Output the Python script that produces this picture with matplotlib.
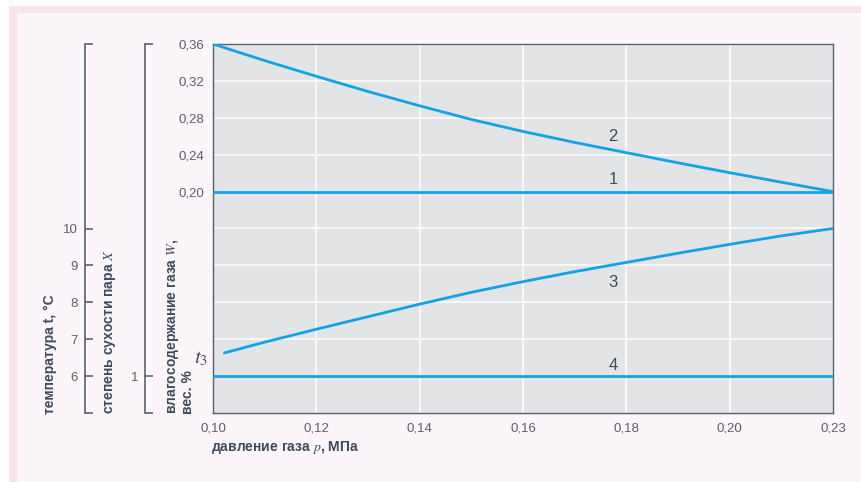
import matplotlib
matplotlib.use("Agg")
import matplotlib.pyplot as plt
from matplotlib.patches import Rectangle

plt.rcParams['font.family'] = ['Liberation Sans Narrow', 'Liberation Sans', 'DejaVu Sans']
plt.rcParams['mathtext.fontset'] = 'stix'

# gas pressure, MPa
p = [0.10, 0.11, 0.12, 0.13, 0.14, 0.15, 0.16, 0.17, 0.18, 0.19, 0.20, 0.21, 0.22]
# curve 1 and 2: moisture content of gas W, wt. %
w1 = [0.20] * len(p)
w2 = [0.360, 0.342, 0.325, 0.3085, 0.293, 0.2782, 0.2652, 0.2533, 0.2422, 0.2312, 0.2205, 0.2102, 0.200]
# curve 3: temperature t3, °C
p3 = [0.102, 0.11, 0.12, 0.13, 0.14, 0.15, 0.16, 0.17, 0.18, 0.19, 0.20, 0.21, 0.22]
t3 = [6.62, 6.92, 7.27, 7.61, 7.95, 8.27, 8.56, 8.83, 9.08, 9.33, 9.57, 9.80, 10.0]
# curve 4: temperature at dryness X = 1
t4 = [6.0] * len(p)

x_ticks = [0.10, 0.12, 0.14, 0.16, 0.18, 0.20, 0.22]
x_tick_labels = ['0,10', '0,12', '0,14', '0,16', '0,18', '0,20', '0,23']
w_ticks = [0.20, 0.24, 0.28, 0.32, 0.36]
w_grid = [-0.04 + 0.04 * i for i in range(11)]
t_ticks = [6, 7, 8, 9, 10]
x_dry_ticks = [1]

LINE = '#12a2e6'
DARK = '#3d4b5b'
TICK = '#5b6066'
SPINE = '#56626e'
LW = 2.0

fig = plt.figure(figsize=(8.61, 4.82), dpi=100, facecolor='white')
fig.patches.append(Rectangle((9 / 861, 0), 1, 1 - 6 / 482, transform=fig.transFigure,
                             facecolor='#fbe3ec', edgecolor='none', zorder=-3))
fig.patches.append(Rectangle((17 / 861, 0), 1, 1 - 13 / 482, transform=fig.transFigure,
                             facecolor='#fcf5f9', edgecolor='none', zorder=-2))

ax = fig.add_axes([213 / 861, 1 - 413 / 482, 620 / 861, 369 / 482])
ax.set_facecolor('#e3e4e6')
ax.set_xlim(0.10, 0.22)
ax.set_ylim(-0.04, 0.36)
for g in w_grid[1:-1]:
    ax.axhline(g, color='white', lw=1.1, zorder=0.5)
for g in x_ticks[1:-1]:
    ax.axvline(g, color='white', lw=1.1, zorder=0.5)
for s in ax.spines.values():
    s.set_color(SPINE)
    s.set_linewidth(1.0)

ax.plot(p, w1, color=LINE, lw=LW, solid_capstyle='butt', zorder=3)
ax.plot(p, w2, color=LINE, lw=LW, solid_capstyle='butt', zorder=3)

ax.set_xticks(x_ticks)
ax.set_xticklabels(x_tick_labels)
ax.set_yticks(w_ticks)
ax.set_yticklabels([f'{v:.2f}'.replace('.', ',') for v in w_ticks])
ax.tick_params(length=0, pad=6, labelsize=9.5, labelcolor=TICK)
ax.tick_params(axis='x', pad=7)

# temperature axis, far left
ax_t = ax.twinx()
ax_t.set_ylim(5, 15)
ax_t.plot(p3, t3, color=LINE, lw=LW, solid_capstyle='butt', zorder=3)
ax_t.plot(p, t4, color=LINE, lw=LW, solid_capstyle='butt', zorder=3)
# dryness axis, middle
ax_x = ax.twinx()
ax_x.set_ylim(0, 10)

for a, ticks, off in [(ax_t, t_ticks, 128), (ax_x, x_dry_ticks, 68)]:
    for name in ['top', 'right', 'bottom']:
        a.spines[name].set_visible(False)
    a.spines['left'].set_visible(True)
    a.spines['left'].set_position(('outward', off * 0.72))
    a.spines['left'].set_color(SPINE)
    a.spines['left'].set_linewidth(1.2)
    a.yaxis.set_ticks_position('left')
    a.set_yticks(ticks)
    a.set_yticklabels([str(v) for v in ticks])
    lo, hi = a.get_ylim()
    a.set_yticks([lo, hi], minor=True)
    a.tick_params(axis='y', which='both', direction='in', length=5.5, width=1.2,
                  color=SPINE, labelsize=9.5, labelcolor=TICK, pad=5)

# curve numbers
for xv, yv, s in [(0.1774, 0.2592, '2'), (0.1774, 0.2126, '1'), (0.1774, 0.102, '3'), (0.1774, 0.011, '4')]:
    ax.text(xv, yv, s, color=DARK, fontsize=12, ha='center', va='center', zorder=4)

fig.text(201 / 861, 1 - 359 / 482, '$t_3$', fontsize=15, color=DARK, ha='center', va='center')

fig.text(211 / 861, 1 - 447 / 482, 'давление газа $p$, МПа', fontsize=10, color=DARK,
         fontweight='bold', ha='left', va='center')
fig.text(50 / 861, 1 - 414 / 482, 'температура t, °C', fontsize=10, color=DARK,
         fontweight='bold', rotation=90, ha='center', va='bottom')
fig.text(110 / 861, 1 - 414 / 482, 'степень сухости пара $X$', fontsize=10, color=DARK,
         fontweight='bold', rotation=90, ha='center', va='bottom')
fig.text(180 / 861, 1 - 414 / 482, 'влагосодержание газа $W$,\nвес. %', fontsize=10,
         color=DARK, fontweight='bold', rotation=90, ha='center', va='bottom',
         multialignment='left', linespacing=1.0)

fig.savefig('out.png', dpi=100, facecolor=fig.get_facecolor())
